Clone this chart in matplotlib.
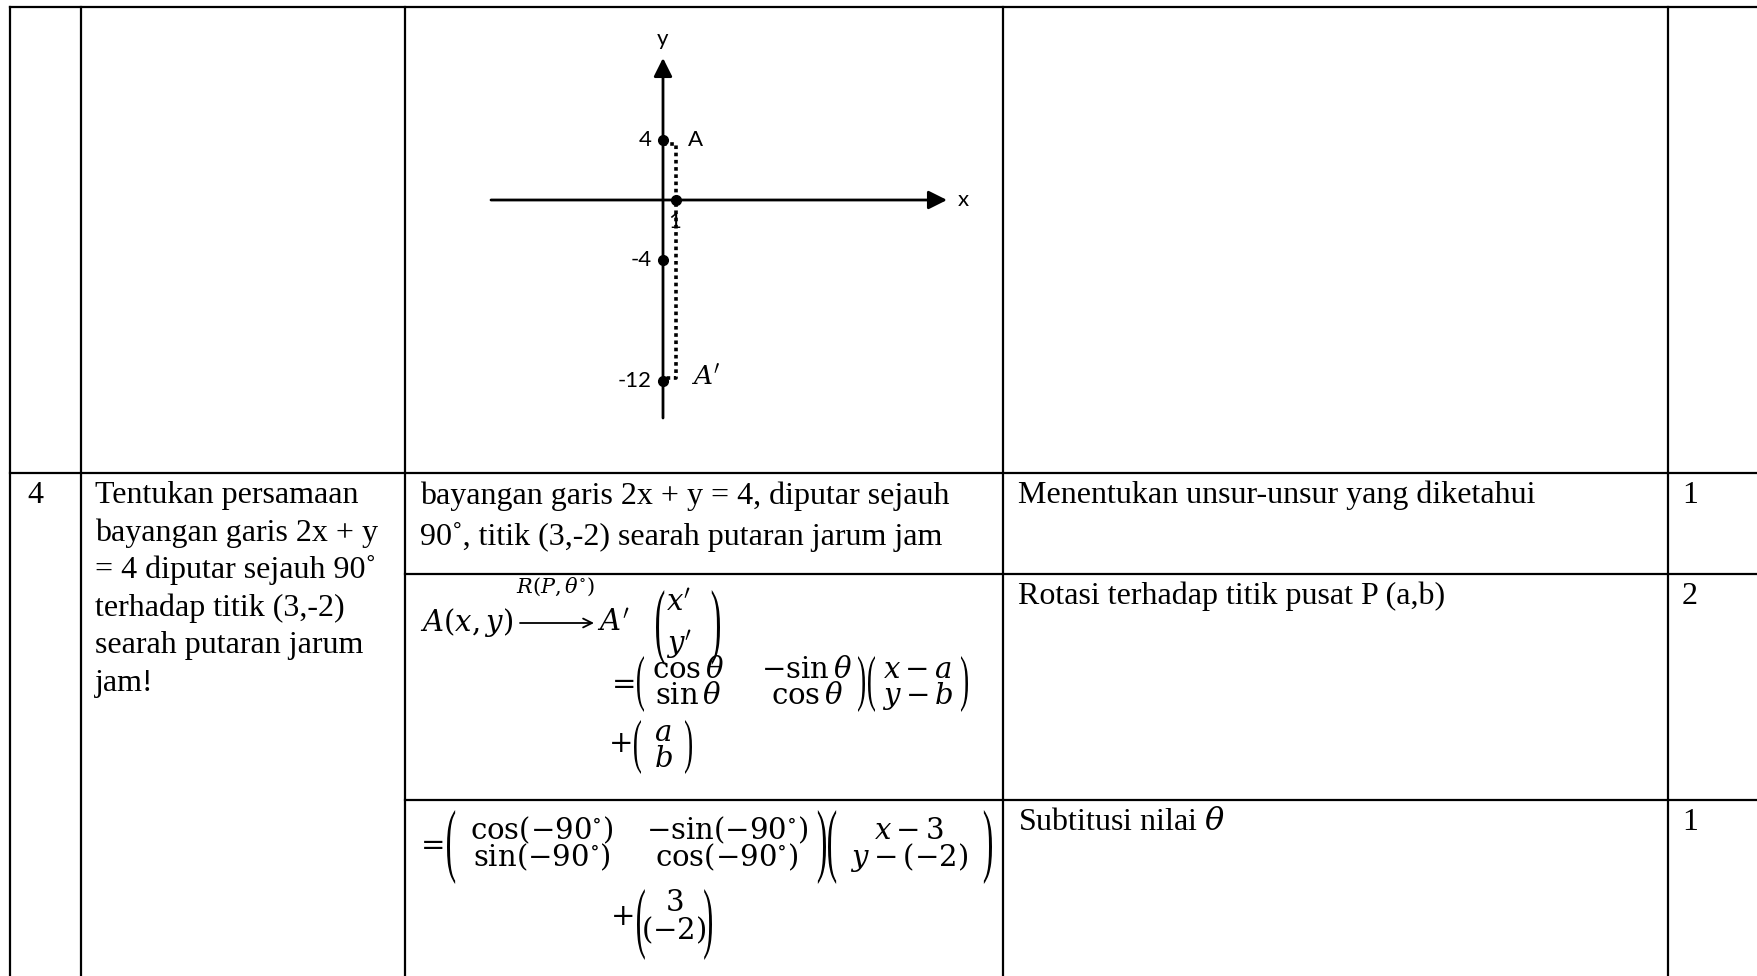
import matplotlib.pyplot as plt
import matplotlib
from matplotlib.patches import PathPatch
from matplotlib.textpath import TextPath
from matplotlib.font_manager import FontProperties
from matplotlib.transforms import Affine2D

matplotlib.rcParams['mathtext.fontset'] = 'dejavuserif'

W, H = 1758, 976

# ruled lines of the table, in pixels
col_lines = [10, 81, 405, 1003, 1668]
row_top = 7
row_split = 473
sub_rows = [574, 800]

# table content
nomor = '4'
soal_lines = ['Tentukan persamaan', 'bayangan garis 2x + y', '= 4 diputar sejauh 90˚',
              'terhadap titik (3,-2)', 'searah putaran jarum', 'jam!']
diketahui_lines = ['bayangan garis 2x + y = 4, diputar sejauh',
                   '90˚, titik (3,-2) searah putaran jarum jam']
kriteria = ['Menentukan unsur-unsur yang diketahui',
            'Rotasi terhadap titik pusat P (a,b)',
            r'Subtitusi nilai $\theta$']
skor = ['1', '2', '1']

# matrices of the worked answer
rot_general = [[r'$\cos\theta$', r'$-\sin\theta$'], [r'$\sin\theta$', r'$\cos\theta$']]
shift_general = [r'$x-a$', r'$y-b$']
center_general = [r'$a$', r'$b$']
image_vec = [r'$x^{\prime}$', r'$y^{\prime}$']
rot_90 = [[r'$\cos(-90^{\circ})$', r'$-\sin(-90^{\circ})$'],
          [r'$\sin(-90^{\circ})$', r'$\cos(-90^{\circ})$']]
shift_90 = [r'$x-3$', r'$y-(-2)$']
center_90 = [r'$3$', r'$(-2)$']

# rough sketch in the top cell
sketch_ticks = [4, -4, -12]
sketch_tick_labels = ['4', '-4', '-12']
x_mark = 1
A_point = (0, 4)
A_image = (0, -12)

text_kw = dict(fontsize=23, family='Liberation Serif', va='baseline', color='black')
MATH_FS = 21
PAREN_FP = FontProperties(family='Liberation Serif')


def draw_grid(ax):
    lw = 1.6
    ax.plot([col_lines[0], W], [row_top, row_top], color='black', lw=lw)
    ax.plot([col_lines[0], W], [row_split, row_split], color='black', lw=lw)
    for y in sub_rows:
        ax.plot([col_lines[2], W], [y, y], color='black', lw=lw)
    for x in col_lines:
        ax.plot([x, x], [row_top, H], color='black', lw=lw)


def paren(ax, x, y_top, y_bot, side):
    """Stretched bracket glyph; x is the outer edge of the bracket."""
    ch = '(' if side == 'left' else ')'
    tp = TextPath((0, 0), ch, size=1, prop=PAREN_FP)
    ext = tp.get_extents()
    h = y_bot - y_top
    w = max(7.0, 0.11 * h)
    x0 = x if side == 'left' else x - w
    tr = (Affine2D().translate(-ext.x0, -ext.y0)
          .scale(w / ext.width, -h / ext.height)
          .translate(x0, y_bot))
    ax.add_patch(PathPatch(tr.transform_path(tp), facecolor='black', edgecolor='none'))


def matrix(ax, cells, col_x, row_y, left, right, top, bottom):
    """cells: list of rows; col_x: column centres; row_y: visual row centres."""
    for r, row in enumerate(cells):
        for c, s in enumerate(row):
            ax.text(col_x[c], row_y[r] + 8, s, ha='center', va='baseline',
                    fontsize=MATH_FS, color='black')
    paren(ax, left, top, bottom, 'left')
    paren(ax, right, top, bottom, 'right')


def draw_sketch(fig):
    # pixel box of the sketch and its scale (px per unit)
    left, top, right, bottom = 480, 20, 1000, 440
    x0_px, y0_px = 663, 200
    sx, sy = 13.0, 15.07
    gax = fig.add_axes([left / W, 1 - bottom / H, (right - left) / W, (bottom - top) / H])
    gax.set_xlim((left - x0_px) / sx, (right - x0_px) / sx)
    gax.set_ylim((y0_px - bottom) / sy, (y0_px - top) / sy)
    gax.axis('off')

    x_start, x_end = (491 - x0_px) / sx, (947 - x0_px) / sx
    y_start, y_end = (y0_px - 418) / sy, (y0_px - 58) / sy
    arrow = dict(arrowstyle='-|>', lw=2, color='black', mutation_scale=28, shrinkA=0, shrinkB=0)
    gax.annotate('', xy=(x_end, 0), xytext=(x_start, 0), arrowprops=arrow)
    gax.annotate('', xy=(0, y_end), xytext=(0, y_start), arrowprops=arrow)

    lab = dict(fontsize=16, family='Lato', color='black')
    gax.text(0, y_end + 0.6, 'y', ha='center', va='bottom', **lab)
    gax.text(x_end + 0.8, 0, 'x', ha='left', va='center', **lab)

    # dotted guide from A down to A'
    gax.plot([A_point[0], x_mark, x_mark, A_image[0]],
             [A_point[1] - 0.3, A_point[1] - 0.3, A_image[1] + 0.2, A_image[1] + 0.2],
             color='black', lw=2.6, linestyle=(0, (1, 1)))

    for v, t in zip(sketch_ticks, sketch_tick_labels):
        gax.plot(0, v, 'o', color='black', ms=7)
        gax.annotate(t, (0, v), xytext=(-8, 0), textcoords='offset points',
                     ha='right', va='center', **lab)
    gax.plot(x_mark, 0, 'o', color='black', ms=7)
    gax.annotate(str(x_mark), (x_mark, 0), xytext=(-1, -9), textcoords='offset points',
                 ha='center', va='top', **lab)
    gax.annotate('A', A_point, xytext=(18, 0), textcoords='offset points',
                 ha='left', va='center', **lab)
    gax.annotate(r"$A^{\prime}$", A_image, xytext=(20, 2), textcoords='offset points',
                 ha='left', va='center', fontsize=19, color='black')


def main():
    fig = plt.figure(figsize=(W / 100, H / 100), dpi=100)
    ax = fig.add_axes([0, 0, 1, 1])
    ax.set_xlim(0, W)
    ax.set_ylim(H, 0)
    ax.axis('off')

    draw_grid(ax)

    base = row_split + 30
    ax.text(27, base, nomor, **text_kw)
    for i, s in enumerate(soal_lines):
        ax.text(95, base + i * 37.6, s, **text_kw)
    for i, s in enumerate(diketahui_lines):
        ax.text(420, base + 1 + i * 41, s, **text_kw)

    row_starts = [row_split, sub_rows[0], sub_rows[1]]
    for y, k, s in zip(row_starts, kriteria, skor):
        ax.text(1018, y + 30, k, **text_kw)
        ax.text(1682, y + 30, s, **text_kw)

    # A(x,y) --R(P,theta)--> A'(x', y')
    ax.text(420, 631, r'$A(x,y)$', ha='left', va='baseline', fontsize=MATH_FS)
    ax.annotate('', xy=(594, 623), xytext=(520, 623),
                arrowprops=dict(arrowstyle='->', lw=1.3, color='black', mutation_scale=16,
                                shrinkA=0, shrinkB=0))
    ax.text(556, 593, r'$R(P,\theta^{\circ})$', ha='center', va='baseline', fontsize=15)
    ax.text(597, 631, r'$A^{\prime}$', ha='left', va='baseline', fontsize=MATH_FS)
    matrix(ax, [[image_vec[0]], [image_vec[1]]], [679], [603, 645], 656, 720, 590, 665)

    # = R(theta) (x-a, y-b) + (a, b)
    ax.text(620, 683 + 8, r'$=$', ha='center', va='baseline', fontsize=MATH_FS)
    matrix(ax, rot_general, [688, 807], [670, 696], 637, 865, 656, 712)
    matrix(ax, [[s] for s in shift_general], [918], [670, 696], 868, 968, 656, 712)
    ax.text(620, 744 + 8, r'$+$', ha='center', va='baseline', fontsize=MATH_FS)
    matrix(ax, [[s] for s in center_general], [663], [733, 759], 634, 692, 720, 774)

    # substitution with theta = -90
    ax.text(429, 844 + 8, r'$=$', ha='center', va='baseline', fontsize=MATH_FS)
    matrix(ax, rot_90, [542, 727], [831, 858], 447, 826, 810, 884)
    matrix(ax, [[s] for s in shift_90], [909], [831, 858], 828, 992, 810, 884)
    ax.text(622, 917 + 8, r'$+$', ha='center', va='baseline', fontsize=MATH_FS)
    matrix(ax, [[s] for s in center_90], [674], [903, 931], 637, 712, 889, 960)

    draw_sketch(fig)

    fig.savefig('out.png', dpi=100, facecolor='white')
    plt.close(fig)


if __name__ == "__main__":
    main()
